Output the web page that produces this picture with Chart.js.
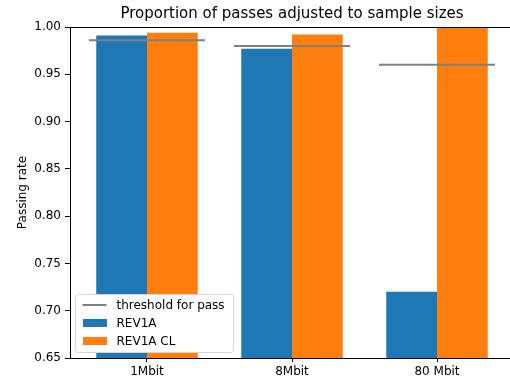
<!DOCTYPE html>
<html>
<head>
<meta charset="utf-8">
<script src="https://cdn.jsdelivr.net/npm/chart.js@4.4.0/dist/chart.umd.min.js"></script>
<style>
  html, body { margin: 0; padding: 0; background: #fff; overflow: hidden; }
  #wrap { width: 510px; height: 382px; overflow: hidden; }
</style>
</head>
<body>
<div id="wrap"><canvas id="passChart" width="516" height="382"></canvas></div>
<script>
  // data
  var categories = ["1Mbit", "8Mbit", "80 Mbit"];
  var rev1a = [0.991, 0.977, 0.720];
  var rev1aCl = [0.994, 0.992, 1.000];
  var threshold = [0.986, 0.980, 0.960];
  var yTicks = [0.65, 0.70, 0.75, 0.80, 0.85, 0.90, 0.95, 1.00];
  var seriesNames = ["threshold for pass", "REV1A", "REV1A CL"];

  var FONT = "DejaVu Sans";
  var halfSpan = 0.4; // threshold segment half width (x units)

  // threshold segments, broken with null between groups
  var thresholdPts = [];
  threshold.forEach(function (t, i) {
    thresholdPts.push({ x: i - halfSpan, y: t });
    thresholdPts.push({ x: i + halfSpan, y: t });
    thresholdPts.push({ x: i + 0.5, y: null });
  });

  var toPts = function (arr) {
    return arr.map(function (v, i) { return { x: i, y: v }; });
  };

  // top spine + matplotlib like legend box
  var framePlugin = {
    id: "frame",
    afterDraw: function (chart) {
      var ctx = chart.ctx, area = chart.chartArea;
      ctx.save();
      ctx.strokeStyle = "#000";
      ctx.lineWidth = 1;
      ctx.beginPath();
      ctx.moveTo(area.left, Math.round(area.top) + 0.5);
      ctx.lineTo(area.right, Math.round(area.top) + 0.5);
      ctx.stroke();

      var ds = chart.data.datasets;
      var w = 158, h = 58, rowH = 18;
      var x0 = Math.round(area.left + 5) + 0.5;
      var y0 = Math.round(area.bottom - 6 - h) + 0.5;
      ctx.beginPath();
      ctx.roundRect(x0, y0, w, h, 3);
      ctx.fillStyle = "#fff";
      ctx.fill();
      ctx.strokeStyle = "#d6d6d6";
      ctx.stroke();

      ctx.font = "12px '" + FONT + "'";
      ctx.textBaseline = "middle";
      ctx.textAlign = "left";
      for (var i = 0; i < ds.length; i++) {
        var cy = Math.round(y0 + 10 + i * rowH);
        if (ds[i].type === "line") {
          ctx.strokeStyle = ds[i].borderColor;
          ctx.lineWidth = 2;
          ctx.beginPath();
          ctx.moveTo(x0 + 7, cy);
          ctx.lineTo(x0 + 31, cy);
          ctx.stroke();
        } else {
          ctx.fillStyle = ds[i].backgroundColor;
          ctx.fillRect(Math.round(x0 + 7), cy - 4, 24, 8);
        }
        ctx.fillStyle = "#000";
        ctx.fillText(ds[i].label, x0 + 41, cy + 1);
      }
      ctx.restore();
    }
  };

  var axisTickFont = { family: FONT, size: 12 };

  new Chart(document.getElementById("passChart").getContext("2d"), {
    type: "bar",
    data: {
      datasets: [
        {
          type: "line",
          label: seriesNames[0],
          data: thresholdPts,
          borderColor: "#808080",
          borderWidth: 2,
          pointRadius: 0,
          spanGaps: false
        },
        {
          label: seriesNames[1],
          data: toPts(rev1a),
          backgroundColor: "#1f77b4",
          borderWidth: 0
        },
        {
          label: seriesNames[2],
          data: toPts(rev1aCl),
          backgroundColor: "#ff7f0e",
          borderWidth: 0
        }
      ]
    },
    options: {
      responsive: false,
      animation: false,
      events: [],
      layout: { padding: { left: 0, right: 2, top: 0, bottom: 0 } },
      datasets: { bar: { categoryPercentage: 0.7, barPercentage: 1.0 } },
      plugins: {
        legend: { display: false },
        tooltip: { enabled: false },
        title: {
          display: true,
          fullSize: false,
          text: "Proportion of passes adjusted to sample sizes",
          color: "#000",
          font: { family: FONT, size: 15, weight: "normal" },
          padding: { top: 5, bottom: 4 }
        }
      },
      scales: {
        x: {
          type: "linear",
          offset: false,
          min: -0.531,
          max: 2.531,
          afterFit: function (s) { s.height = 24; },
          afterBuildTicks: function (s) {
            s.ticks = categories.map(function (c, i) { return { value: i }; });
          },
          grid: { offset: false, drawOnChartArea: false, drawTicks: true, tickLength: 4, tickColor: "#000" },
          border: { color: "#000", width: 1 },
          ticks: {
            color: "#000",
            font: axisTickFont,
            padding: 3,
            autoSkip: false,
            maxRotation: 0,
            callback: function (v) { return categories[v]; }
          }
        },
        y: {
          min: 0.65,
          max: 1.0,
          afterFit: function (s) { s.width = 70; },
          afterBuildTicks: function (s) {
            s.ticks = yTicks.map(function (v) { return { value: v }; });
          },
          grid: { drawOnChartArea: false, drawTicks: true, tickLength: 5, tickColor: "#000" },
          border: { color: "#000", width: 1 },
          ticks: {
            color: "#000",
            font: axisTickFont,
            padding: 4,
            callback: function (v) { return Number(v).toFixed(2); }
          },
          title: {
            display: true,
            text: "Passing rate",
            color: "#000",
            font: { family: FONT, size: 12 },
            padding: { top: 16, bottom: 0 }
          }
        }
      }
    },
    plugins: [framePlugin]
  });
</script>
</body>
</html>
